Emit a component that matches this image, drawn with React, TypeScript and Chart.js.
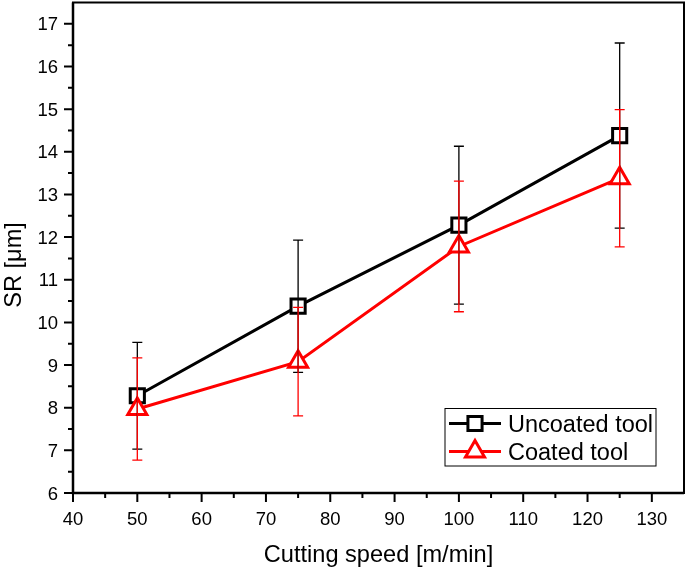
import React, { useEffect, useRef } from "react";
import { Chart, registerables } from "chart.js";

Chart.register(...registerables);

const speeds = [50, 75, 100, 125];
const uncoatedSR = [8.28, 10.38, 12.28, 14.38];
const uncoatedErr = [1.25, 1.55, 1.85, 2.17];
const coatedSR = [7.97, 9.08, 11.78, 13.38];
const coatedErr = [1.2, 1.27, 1.53, 1.61];
const xTickValues = [40, 50, 60, 70, 80, 90, 100, 110, 120, 130];
const yTickValues = [6, 7, 8, 9, 10, 11, 12, 13, 14, 15, 16, 17];
const seriesLabels = ["Uncoated tool", "Coated tool"];
const seriesColors = ["#000000", "#ff0000"];
const seriesErrors = [uncoatedErr, coatedErr];
const xTitle = "Cutting speed [m/min]";
const yTitle = "SR [\u03bcm]";
const FONT = "'Liberation Sans', Arial, sans-serif";

const decorPlugin = {
  id: "decor",
  afterDatasetsDraw(chart: any) {
    const { ctx, scales } = chart;
    const x = scales.x;
    const y = scales.y;
    ctx.save();
    chart.data.datasets.forEach((ds: any, i: number) => {
      const errs = seriesErrors[i];
      ctx.strokeStyle = seriesColors[i];
      ctx.lineWidth = 1.3;
      ds.data.forEach((p: any, j: number) => {
        const px = x.getPixelForValue(p.x);
        const top = y.getPixelForValue(p.y + errs[j]);
        const bot = y.getPixelForValue(p.y - errs[j]);
        ctx.beginPath();
        ctx.moveTo(px, top);
        ctx.lineTo(px, bot);
        ctx.moveTo(px - 5, top);
        ctx.lineTo(px + 5, top);
        ctx.moveTo(px - 5, bot);
        ctx.lineTo(px + 5, bot);
        ctx.stroke();
      });
    });
    ctx.restore();
  },
  afterDraw(chart: any) {
    const { ctx, chartArea: a, scales } = chart;
    const x = scales.x;
    const y = scales.y;
    ctx.save();
    // frame
    ctx.strokeStyle = "#000";
    ctx.lineWidth = 2;
    ctx.strokeRect(a.left, a.top, a.right - a.left, a.bottom - a.top);
    ctx.lineWidth = 2.5;
    ctx.beginPath();
    ctx.moveTo(a.left, a.top);
    ctx.lineTo(a.left, a.bottom);
    ctx.lineTo(a.right, a.bottom);
    ctx.stroke();
    // tick marks and labels
    ctx.lineWidth = 2;
    ctx.fillStyle = "#000";
    ctx.font = `18.5px ${FONT}`;
    ctx.beginPath();
    ctx.textAlign = "center";
    ctx.textBaseline = "alphabetic";
    x.ticks.forEach((t: any) => {
      if (t.value >= x.max) return;
      const px = x.getPixelForValue(t.value);
      const major = xTickValues.includes(t.value);
      ctx.moveTo(px, a.bottom);
      ctx.lineTo(px, a.bottom + (major ? 9 : 5));
      if (major) ctx.fillText(String(t.value), px, a.bottom + 32);
    });
    ctx.textAlign = "right";
    y.ticks.forEach((t: any) => {
      if (t.value >= y.max) return;
      const py = y.getPixelForValue(t.value);
      const major = yTickValues.includes(t.value);
      ctx.moveTo(a.left, py);
      ctx.lineTo(a.left - (major ? 9 : 5), py);
      if (major) ctx.fillText(String(t.value), a.left - 15, py + 6.6);
    });
    ctx.stroke();
    // axis titles
    ctx.font = `23.6px ${FONT}`;
    ctx.textAlign = "center";
    ctx.textBaseline = "alphabetic";
    ctx.fillText(xTitle, (a.left + a.right) / 2, 562);
    ctx.save();
    ctx.translate(20.5, 265);
    ctx.rotate(-Math.PI / 2);
    ctx.fillText(yTitle, 0, 0);
    ctx.restore();
    // legend
    const bx = 445, by = 408.5, bw = 211, bh = 57.5;
    ctx.fillStyle = "#fff";
    ctx.fillRect(bx, by, bw, bh);
    ctx.strokeStyle = "#000";
    ctx.lineWidth = 1;
    ctx.strokeRect(bx, by, bw, bh);
    const rows = [423.5, 451.5];
    const baselines = [431.7, 460];
    chart.data.datasets.forEach((ds: any, i: number) => {
      const cy = rows[i];
      ctx.strokeStyle = seriesColors[i];
      ctx.lineWidth = 3;
      ctx.beginPath();
      ctx.moveTo(449, cy);
      ctx.lineTo(501, cy);
      ctx.stroke();
      ctx.fillStyle = "#fff";
      ctx.beginPath();
      if (i === 0) {
        const s = ds.pointRadius * Math.SQRT1_2;
        ctx.rect(475 - s, cy - s, 2 * s, 2 * s);
      } else {
        const r = ds.pointRadius;
        ctx.moveTo(475, cy - r);
        ctx.lineTo(475 + r * Math.sin(Math.PI * 2 / 3), cy - r * Math.cos(Math.PI * 2 / 3));
        ctx.lineTo(475 - r * Math.sin(Math.PI * 2 / 3), cy - r * Math.cos(Math.PI * 2 / 3));
        ctx.closePath();
      }
      ctx.fill();
      ctx.stroke();
      ctx.fillStyle = "#000";
      ctx.font = `23.5px ${FONT}`;
      ctx.textAlign = "left";
      ctx.textBaseline = "alphabetic";
      ctx.fillText(ds.label, 508, baselines[i]);
    });
    ctx.restore();
  },
};

export default function App() {
  const ref = useRef<HTMLCanvasElement | null>(null);
  useEffect(() => {
    document.body.style.margin = "0";
    const canvas = ref.current;
    if (!canvas) return;
    const chart = new Chart(canvas, {
      type: "line",
      data: {
        datasets: [
          {
            label: seriesLabels[0],
            data: speeds.map((s, i) => ({ x: s, y: uncoatedSR[i] })),
            borderColor: seriesColors[0],
            backgroundColor: "#ffffff",
            pointBackgroundColor: "#ffffff",
            pointBorderColor: seriesColors[0],
            borderWidth: 3,
            pointBorderWidth: 3,
            pointRadius: 10,
            pointStyle: "rect",
            order: 2,
          },
          {
            label: seriesLabels[1],
            data: speeds.map((s, i) => ({ x: s, y: coatedSR[i] })),
            borderColor: seriesColors[1],
            backgroundColor: "#ffffff",
            pointBackgroundColor: "#ffffff",
            pointBorderColor: seriesColors[1],
            borderWidth: 3,
            pointBorderWidth: 3,
            pointRadius: 11,
            pointStyle: "triangle",
            order: 1,
          },
        ],
      },
      options: {
        responsive: false,
        animation: false,
        layout: { autoPadding: false, padding: { top: 2.5, right: 1, left: 0, bottom: 0 } },
        plugins: { legend: { display: false }, tooltip: { enabled: false } },
        scales: {
          x: {
            type: "linear",
            min: 40,
            max: 135,
            grid: { display: false, drawTicks: false },
            border: { display: false },
            ticks: { stepSize: 5, autoSkip: false, display: false },
            afterFit: (s: any) => {
              s.height = 74;
            },
          },
          y: {
            type: "linear",
            min: 6,
            max: 17.5,
            grid: { display: false, drawTicks: false },
            border: { display: false },
            ticks: { stepSize: 0.5, autoSkip: false, display: false },
            afterFit: (s: any) => {
              s.width = 73;
            },
          },
        },
      },
      plugins: [decorPlugin],
    });
    return () => chart.destroy();
  }, []);
  return (
    <div style={{ width: 685, height: 567 }}>
      <canvas ref={ref} width={685} height={567} />
    </div>
  );
}
